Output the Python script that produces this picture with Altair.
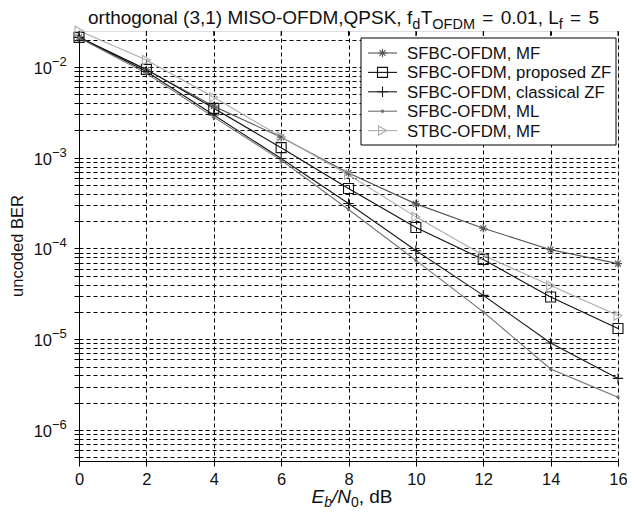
import altair as alt
import pandas as pd

# ---------------- data ----------------
snr_db = [0, 2, 4, 6, 8, 10, 12, 14, 16]
ber_sfbc_mf = [0.0212, 0.0093, 0.0037, 0.00168, 6.8e-4, 3.1e-4, 1.67e-4, 9.7e-5, 6.8e-5]
ber_sfbc_pzf = [0.0212, 0.0094, 0.0035, 0.00129, 4.57e-4, 1.70e-4, 7.55e-5, 2.92e-5, 1.31e-5]
ber_sfbc_czf = [0.0212, 0.0089, 0.00295, 0.00098, 3.13e-4, 9.5e-5, 3.04e-5, 9.1e-6, 3.7e-6]
ber_sfbc_ml = [0.0210, 0.0085, 0.0028, 0.00094, 2.69e-4, 7.4e-5, 2.0e-5, 4.7e-6, 2.3e-6]
ber_stbc_mf = [0.0250, 0.0119, 0.00464, 0.0017, 6.5e-4, 2.23e-4, 8.4e-5, 3.9e-5, 1.82e-5]

series_names = [
    "SFBC-OFDM, MF",
    "SFBC-OFDM, proposed ZF",
    "SFBC-OFDM, classical ZF",
    "SFBC-OFDM, ML",
    "STBC-OFDM, MF",
]
series_values = [ber_sfbc_mf, ber_sfbc_pzf, ber_sfbc_czf, ber_sfbc_ml, ber_stbc_mf]

x_ticks = [0, 2, 4, 6, 8, 10, 12, 14, 16]
y_major = [1e-2, 1e-3, 1e-4, 1e-5, 1e-6]
y_exponents = ["\u22122", "\u22123", "\u22124", "\u22125", "\u22126"]
y_domain = [4.55e-7, 0.0249]

# ---------------- styles ----------------
ASTER = "M-1,0L1,0M0,-1L0,1M-0.7,-0.7L0.7,0.7M-0.7,0.7L0.7,-0.7"
PLUS = "M-1,0L1,0M0,-1L0,1"
series_colors = ["#555555", "#111111", "#1a1a1a", "#707070", "#ababab"]
series_shapes = [ASTER, "square", PLUS, "circle", "triangle-right"]
series_sizes = [70, 100, 110, 12, 85]
series_filled = [False, False, False, True, False]

FONT = "Liberation Sans"
W_PLOT, H_PLOT = 539, 430

# Arial-like advance widths (per 1000 em) for placing rich-text pieces
AW = {c: 556 for c in "abdeghnopqu0123456789"}
AW.update({"c": 500, "f": 278, "i": 222, "j": 222, "k": 500, "l": 222, "m": 833,
           "r": 333, "s": 500, "t": 278, "v": 500, "w": 722, "x": 500, "y": 500,
           "z": 500, " ": 278, "(": 333, ")": 333, ",": 278, ".": 278,
           "=": 584, "-": 333, "/": 278, "A": 667, "B": 667, "C": 722, "D": 722,
           "E": 667, "F": 611, "G": 778, "H": 722, "I": 278, "K": 667, "L": 556,
           "M": 833, "N": 722, "O": 778, "P": 667, "Q": 778, "R": 722, "S": 667,
           "T": 611})


def tw(s, size):
    return sum(AW.get(c, 556) for c in s) * size / 1000.0


def rich_text(pieces, x0, y0, color="#111111"):
    """pieces: (text, size, dy, style, extra advance after the piece in px)"""
    layers = []
    x = x0
    for text, size, dy, style, extra in pieces:
        layers.append(
            alt.Chart(pd.DataFrame({"t": [text]}))
            .mark_text(align="left", baseline="alphabetic", font=FONT, fontSize=size,
                       fontStyle=style, color=color)
            .encode(x=alt.value(x), y=alt.value(y0 + dy), text="t:N")
        )
        x += tw(text, size) + extra
    return layers


rows = []
for name, vals in zip(series_names, series_values):
    for xv, yv in zip(snr_db, vals):
        rows.append({"snr": xv, "ber": yv, "series": name})
df = pd.DataFrame(rows)

x_scale = alt.Scale(domain=[0, 16], nice=False, zero=False)
y_scale = alt.Scale(type="log", domain=y_domain, nice=False)

y_grid_vals = []
for k in range(-7, -1):
    for m in range(1, 10):
        v = m * 10.0 ** k
        if y_domain[0] <= v <= y_domain[1]:
            y_grid_vals.append(v)

x_axis = alt.Axis(values=x_ticks, grid=True, gridDash=[4, 3], gridColor="#000000",
                  gridOpacity=1, gridWidth=1, domainColor="#000000", tickColor="#000000",
                  tickSize=5, labelFont=FONT, labelFontSize=16.5, labelColor="#111111",
                  labelPadding=5, title=None, labelFlush=False)
y_axis = alt.Axis(values=y_grid_vals, grid=True, gridDash=[4, 3], gridColor="#000000",
                  gridOpacity=1, gridWidth=1, domainColor="#000000", tickColor="#000000",
                  tickSize=5, labels=False, title=None)

base = alt.Chart(df)
lines = base.mark_line(strokeWidth=1.1, clip=False).encode(
    x=alt.X("snr:Q", scale=x_scale, axis=x_axis),
    y=alt.Y("ber:Q", scale=y_scale, axis=y_axis),
    color=alt.Color("series:N", scale=alt.Scale(domain=series_names, range=series_colors),
                    legend=None),
    detail="series:N",
)

layers = [lines]
for name, col, shp, sz, fl in zip(series_names, series_colors, series_shapes,
                                  series_sizes, series_filled):
    layers.append(
        base.transform_filter(alt.datum.series == name)
        .mark_point(shape=shp, size=sz, filled=fl, color=col, strokeWidth=1.1,
                    opacity=1, clip=False)
        .encode(x="snr:Q", y="ber:Q")
    )

# top frame ticks (inward)
layers.append(
    alt.Chart(pd.DataFrame({"x": x_ticks})).mark_rule(color="#000000", strokeWidth=1)
    .encode(x="x:Q", y=alt.value(0), y2=alt.value(5))
)

# y tick labels 10^k
ylab = pd.DataFrame({"v": y_major, "e": y_exponents})
layers.append(
    alt.Chart(ylab).mark_text(align="right", baseline="middle", font=FONT, fontSize=16.5,
                              color="#111111", dy=2)
    .encode(x=alt.value(-27), y="v:Q", text=alt.value("10"))
)
layers.append(
    alt.Chart(ylab).mark_text(align="left", baseline="middle", font=FONT, fontSize=13,
                              color="#111111", dy=-5)
    .encode(x=alt.value(-27), y="v:Q", text="e:N")
)

# y axis title
layers.append(
    alt.Chart(pd.DataFrame({"t": ["uncoded BER"]}))
    .mark_text(angle=270, align="center", baseline="middle", font=FONT, fontSize=16.5,
               color="#111111")
    .encode(x=alt.value(-61), y=alt.value(H_PLOT / 2), text="t:N")
)

# legend box
LX0, LX1, LY0, LY1 = 282, 537, 7, 114
layers.append(
    alt.Chart(pd.DataFrame({"a": [0]}))
    .mark_rect(fill="white", stroke="#000000", strokeWidth=1)
    .encode(x=alt.value(LX0), x2=alt.value(LX1), y=alt.value(LY0), y2=alt.value(LY1))
)
for i, (name, col, shp, sz, fl) in enumerate(zip(series_names, series_colors,
                                                 series_shapes, series_sizes,
                                                 series_filled)):
    ry = 22 + 19.4 * i
    one = alt.Chart(pd.DataFrame({"name": [name]}))
    layers.append(one.mark_rule(color=col, strokeWidth=1.1)
                  .encode(x=alt.value(289), x2=alt.value(318), y=alt.value(ry)))
    layers.append(one.mark_point(shape=shp, size=sz, filled=fl, color=col,
                                 strokeWidth=1.1, opacity=1)
                  .encode(x=alt.value(303.5), y=alt.value(ry)))
    layers.append(one.mark_text(align="left", baseline="middle", font=FONT, fontSize=16.8,
                                color="#111111")
                  .encode(x=alt.value(328), y=alt.value(ry + 1), text="name:N"))

# title with subscripts
T, S = 19, 14.5
SP = tw(" ", T)
title_pieces = [
    ("orthogonal (3,1) MISO-OFDM,QPSK,", T, 0, "normal", SP),
    ("f", T, 0, "normal", 0),
    ("d", S, 5, "normal", 0.5),
    ("T", T, 0, "normal", 0),
    ("OFDM", S, 5, "normal", SP + 2),
    ("=", T, 0, "normal", SP + 2),
    ("0.01,", T, 0, "normal", SP),
    ("L", T, 0, "normal", 0),
    ("f", S, 5, "normal", SP + 2),
    ("=", T, 0, "normal", SP + 2),
    ("5", T, 0, "normal", 0),
]
layers += rich_text(title_pieces, 9, -7)

# x axis title with subscripts
X, XS = 19, 14
xt_pieces = [
    ("E", X, 0, "italic", 0),
    ("b", XS, 3.5, "italic", 0),
    ("/N", X, 0, "italic", 0),
    ("0", XS, 3.5, "normal", 0),
    (",", X, 0, "normal", tw(" ", X)),
    ("dB", X, 0, "normal", 0),
]
xt_w = sum(tw(t, s) + e for t, s, _, _, e in xt_pieces)
layers += rich_text(xt_pieces, 273 - xt_w / 2, H_PLOT + 42)

chart = (
    alt.layer(*layers)
    .properties(width=W_PLOT, height=H_PLOT,
                padding={"left": 71, "top": 23, "right": 9, "bottom": 47},
                autosize=alt.AutoSizeParams(type="none"))
    .configure_view(stroke="#000000", strokeWidth=1)
    .configure(background="white")
)

chart.save("out.html", embed_options={"renderer": "svg", "actions": False})
